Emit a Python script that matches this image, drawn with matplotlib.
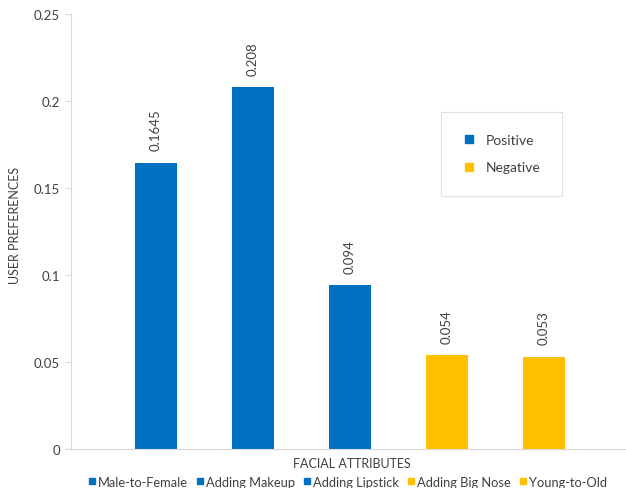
import matplotlib.pyplot as plt
from matplotlib.lines import Line2D
import numpy as np

categories = ['Male-to-Female', 'Adding Makeup', 'Adding Lipstick',
              'Adding Big Nose', 'Young-to-Old']
values = [0.1645, 0.208, 0.094, 0.054, 0.053]
labels = ['0.1645', '0.208', '0.094', '0.054', '0.053']
groups = ['Positive', 'Positive', 'Positive', 'Negative', 'Negative']

colors = {'Positive': '#0070C0', 'Negative': '#FFC000'}
text_color = '#404040'
axis_color = '#D9D9D9'

plt.rcParams['font.family'] = ['Lato', 'DejaVu Sans']
plt.rcParams['font.size'] = 9.5

fig = plt.figure(figsize=(6.26, 4.89), dpi=100)
ax = fig.add_axes([71 / 626, 1 - 450 / 489, (626 - 71) / 626, (450 - 15) / 489])

x = np.arange(len(categories))
bar_colors = [colors[g] for g in groups]
ax.bar(x, values, width=0.44, color=bar_colors)

for xi, v, lab in zip(x, values, labels):
    ax.annotate(lab, (xi, v), xytext=(0, 9), textcoords='offset points',
                rotation=90, ha='center', va='bottom', color=text_color,
                fontsize=9.5)

ax.set_xlim(-0.876, 4.845)
ax.set_ylim(0, 0.25)
ax.set_yticks([0, 0.05, 0.1, 0.15, 0.2, 0.25])
ax.set_yticklabels(['0', '0.05', '0.1', '0.15', '0.2', '0.25'])
ax.set_xticks([])

for s in ['top', 'right']:
    ax.spines[s].set_visible(False)
ax.spines['left'].set_color(axis_color)
ax.spines['bottom'].set_color(axis_color)
ax.tick_params(axis='y', colors=axis_color, labelcolor=text_color, length=4,
               labelsize=9.5, pad=4)

ax.set_ylabel('USER PREFERENCES', color=text_color, fontsize=9)
ax.yaxis.set_label_coords(-(71 - 21) / 555, (450 - 225) / 435)
ax.set_xlabel('FACIAL ATTRIBUTES', color=text_color, fontsize=9)
ax.xaxis.set_label_coords((352 - 71) / (626 - 71), -8 / 435)

# group legend (box in the plot)
grp_handles = [Line2D([], [], marker='s', ls='', color=colors[g], markersize=6)
               for g in ['Positive', 'Negative']]
leg = ax.legend(grp_handles, ['Positive', 'Negative'], loc='upper left',
                bbox_to_anchor=((441 - 71) / 555, 1 - (113 - 15) / 435),
                frameon=True, fancybox=False, edgecolor=axis_color,
                labelcolor=text_color, fontsize=10, handlelength=0.8,
                handletextpad=0.8, labelspacing=1.1, borderpad=1.6,
                borderaxespad=0)
leg.get_frame().set_linewidth(0.8)

# category legend along the bottom
cat_handles = [Line2D([], [], marker='s', ls='', color=c, markersize=4.5)
               for c in bar_colors]
fig.legend(cat_handles, categories, loc='center', ncol=5,
           bbox_to_anchor=(348 / 626, 1 - 483 / 489), frameon=False,
           labelcolor=text_color, fontsize=9.3, handlelength=0.5,
           handletextpad=0.2, columnspacing=0.7)

fig.savefig('out.png', dpi=100)
